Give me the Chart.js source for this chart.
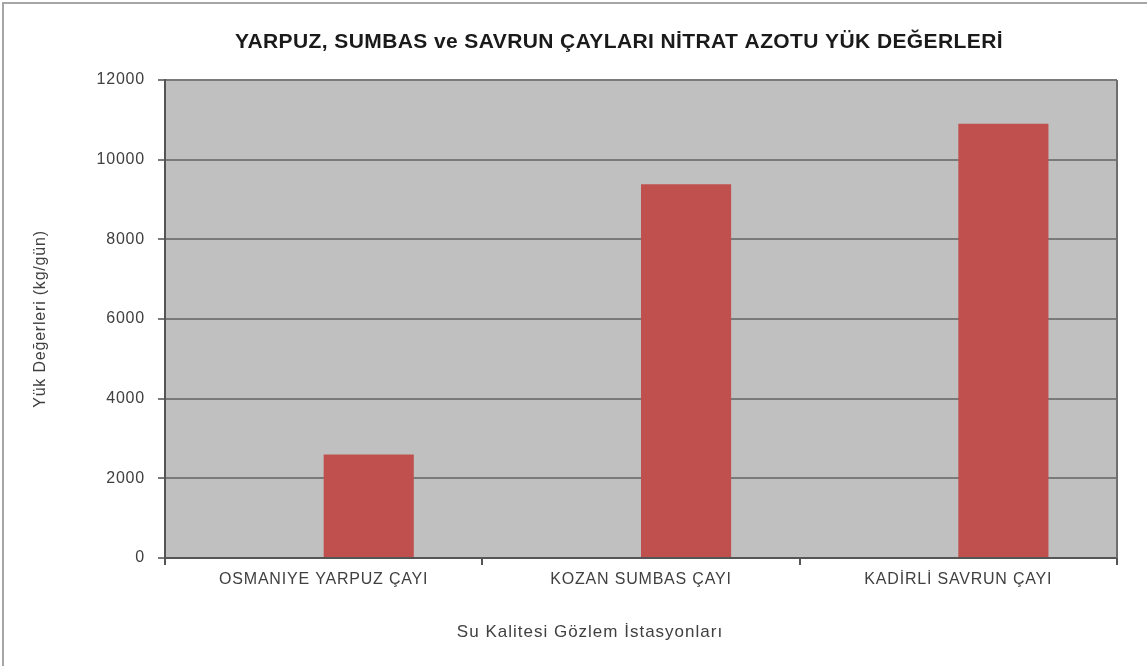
<!DOCTYPE html>
<html>
<head>
<meta charset="utf-8">
<script src="https://cdn.jsdelivr.net/npm/chart.js@4.4.0/dist/chart.umd.min.js"></script>
<style>
  html, body { margin: 0; padding: 0; background: #fff; }
  #wrap { width: 1147px; height: 666px; position: relative; }
</style>
</head>
<body>
<div id="wrap"><canvas id="myChart" width="1147" height="666"></canvas></div>
<script>
// values
const stations = ["OSMANIYE YARPUZ ÇAYI", "KOZAN SUMBAS ÇAYI", "KADİRLİ SAVRUN ÇAYI"];
const emptySeries = [null, null, null]; // first series has no bars, only keeps its slot
const nitrateLoad = [2600, 9380, 10900];
const yMin = 0;
const yMax = 12000;
const yStep = 2000;

const chartTitle = "YARPUZ, SUMBAS ve SAVRUN ÇAYLARI NİTRAT AZOTU YÜK DEĞERLERİ";
const xTitle = "Su Kalitesi Gözlem İstasyonları";
const yTitle = "Yük Değerleri (kg/gün)";

const fontFamily = "'Liberation Sans', Arial, sans-serif";

// the original text is a bit spread out, so widen it a little
const spacing = {
  id: "spacing",
  beforeInit(chart) { chart.ctx.letterSpacing = "0.8px"; },
  beforeDraw(chart) { chart.ctx.letterSpacing = "0.8px"; }
};

// gray plot background, right border, headings and the outer frame
const decor = {
  id: "decor",
  beforeDraw(chart) {
    const { ctx, chartArea: a } = chart;
    ctx.save();
    ctx.fillStyle = "#c0c0c0";
    ctx.fillRect(a.left, a.top, a.right - a.left, a.bottom - a.top);
    ctx.restore();
  },
  afterDraw(chart) {
    const { ctx, chartArea: a } = chart;
    ctx.save();
    ctx.strokeStyle = "#6e6e6e";
    ctx.lineWidth = 2;
    ctx.beginPath();
    ctx.moveTo(a.right, a.top);
    ctx.lineTo(a.right, a.bottom);
    ctx.stroke();

    // outer frame (top and left edges only visible)
    ctx.strokeStyle = "#a6a6a6";
    ctx.lineWidth = 2;
    ctx.beginPath();
    ctx.moveTo(3, 666);
    ctx.lineTo(3, 3);
    ctx.lineTo(1147, 3);
    ctx.stroke();

    ctx.textAlign = "center";
    ctx.textBaseline = "middle";
    ctx.fillStyle = "#1a1a1a";
    ctx.letterSpacing = "0.4px";
    ctx.font = "bold 21px " + fontFamily;
    ctx.fillText(chartTitle, 619, 42);

    ctx.fillStyle = "#404040";
    ctx.letterSpacing = "1px";
    ctx.font = "17px " + fontFamily;
    ctx.fillText(xTitle, 590, 632);
    ctx.restore();
  }
};

const ctx = document.getElementById("myChart").getContext("2d");
const myChart = new Chart(ctx, {
  type: "bar",
  data: {
    labels: stations,
    datasets: [
      { data: emptySeries, backgroundColor: "#4f81bd" },
      { data: nitrateLoad, backgroundColor: "#c0504d", borderWidth: 0 }
    ]
  },
  options: {
    responsive: false,
    animation: false,
    devicePixelRatio: 1,
    layout: { padding: { top: 80, right: 30, bottom: 0, left: 0 } },
    datasets: {
      bar: { categoryPercentage: 0.568, barPercentage: 1 }
    },
    plugins: {
      legend: { display: false },
      title: { display: false },
      tooltip: { enabled: false }
    },
    scales: {
      x: {
        afterFit(scale) { scale.height = 108; },
        grid: {
          offset: true,
          drawOnChartArea: false,
          tickLength: 7,
          color: "#555555",
          lineWidth: 2
        },
        border: { display: true, color: "#555555", width: 2 },
        ticks: {
          padding: 5,
          color: "#404040",
          font: { family: fontFamily, size: 16 }
        }
      },
      y: {
        min: yMin,
        max: yMax,
        afterFit(scale) { scale.width = 165; },
        grid: {
          color: "#7a7a7a",
          lineWidth: 2,
          tickLength: 7
        },
        border: { display: true, color: "#555555", width: 2 },
        ticks: {
          stepSize: yStep,
          padding: 13,
          color: "#404040",
          font: { family: fontFamily, size: 16 },
          callback: (value) => String(value)
        },
        title: {
          display: true,
          text: yTitle,
          color: "#404040",
          padding: { top: 31 },
          font: { family: fontFamily, size: 16 }
        }
      }
    }
  },
  plugins: [spacing, decor]
});
</script>
</body>
</html>
